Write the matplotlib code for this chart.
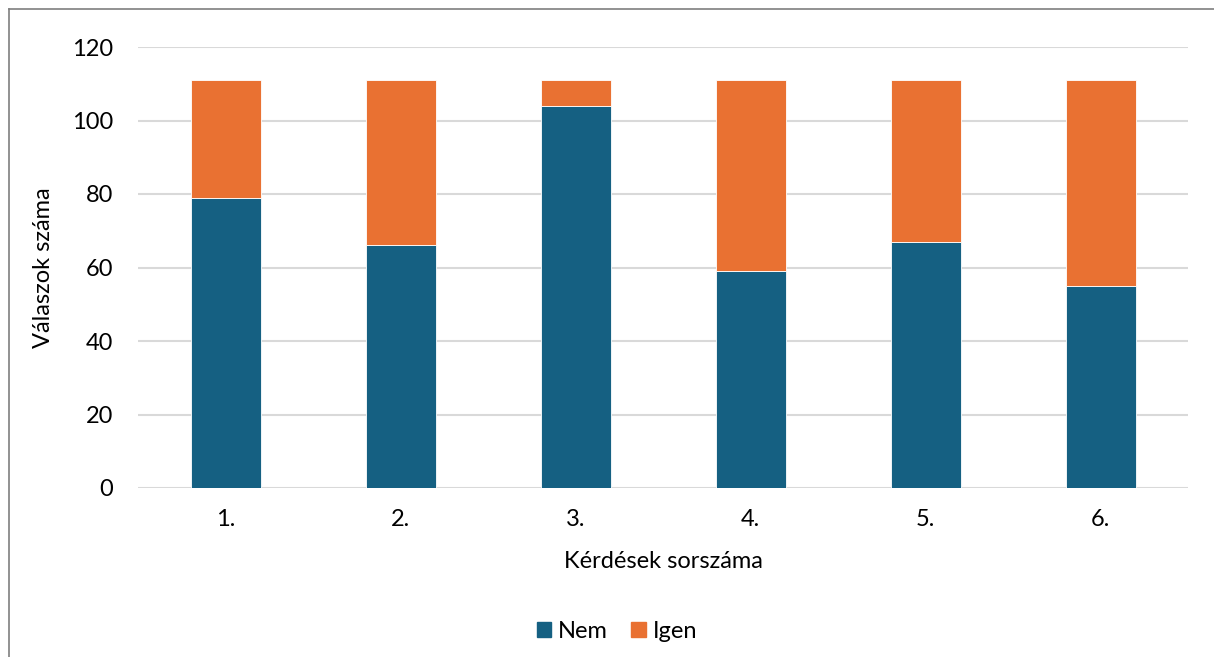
import matplotlib
matplotlib.use("Agg")
import matplotlib.pyplot as plt
from matplotlib.lines import Line2D
from matplotlib.patches import Patch
import numpy as np

categories = ["1.", "2.", "3.", "4.", "5.", "6."]
nem = [79, 66, 104, 59, 67, 55]
igen = [32, 45, 7, 52, 44, 56]
yticks = [0, 20, 40, 60, 80, 100, 120]

c_nem = "#156082"
c_igen = "#E97132"

plt.rcParams['font.family'] = ['Lato', 'DejaVu Sans']

W, H = 1214, 657
fig = plt.figure(figsize=(W/100, H/100), dpi=100)
ax = fig.add_axes([138/W, 1-488/H, (1188-138)/W, (488-47)/H])

x = np.arange(len(categories))
ax.bar(x, nem, width=0.4, color=c_nem, edgecolor="white", linewidth=0.6, zorder=3)
ax.bar(x, igen, bottom=nem, width=0.4, color=c_igen, edgecolor="white", linewidth=0.6, zorder=3)

ax.set_xlim(-0.5, len(categories)-0.5)
ax.set_ylim(0, 120)
ax.set_yticks(yticks)
ax.set_xticks(x)
ax.set_xticklabels(categories)
ax.tick_params(axis='both', length=0, labelsize=17, colors="#000000")
ax.tick_params(axis='y', pad=18)
ax.tick_params(axis='x', pad=15)
ax.grid(axis='y', color="#d9d9d9", linewidth=1.5, zorder=0)
for s in ax.spines.values():
    s.set_visible(False)

ax.set_xlabel("Kérdések sorszáma", fontsize=17, labelpad=15)
ax.set_ylabel("Válaszok száma", fontsize=17, labelpad=13)

handles = [Patch(color=c_nem, label="Nem"), Patch(color=c_igen, label="Igen")]
fig.legend(handles=handles, loc="center", bbox_to_anchor=(617/W, 1-631/H), ncol=2,
           frameon=False, fontsize=17, handlelength=0.6, handleheight=0.6,
           handletextpad=0.3, columnspacing=1.0)

fig.add_artist(Line2D([9/W, 9/W], [0, 1-9/H], color="#7f7f7f", linewidth=1.2, transform=fig.transFigure))
fig.add_artist(Line2D([9/W, 1], [1-9/H, 1-9/H], color="#7f7f7f", linewidth=1.2, transform=fig.transFigure))

fig.savefig("out.png", dpi=100)
